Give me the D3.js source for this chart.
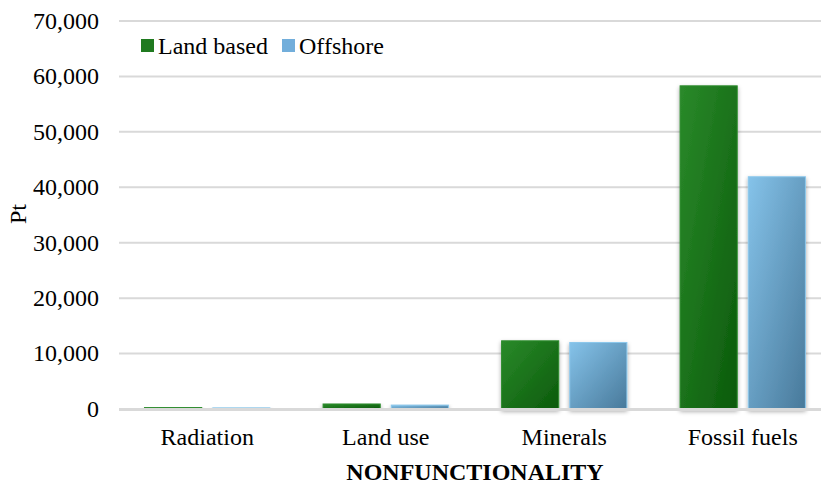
<!DOCTYPE html>
<html>
<head>
<meta charset="utf-8">
<script src="https://d3js.org/d3.v7.min.js"></script>
<style>
  body { margin: 0; background: #fff; }
</style>
</head>
<body>
<script>
// chart data
var categories = ["Radiation", "Land use", "Minerals", "Fossil fuels"];
var seriesNames = ["Land based", "Offshore"];
var landBased = [300, 900, 12300, 58300];
var offshore = [200, 700, 12000, 41900];
var yTicks = [0, 10000, 20000, 30000, 40000, 50000, 60000, 70000];

var width = 821, height = 484;
var margin = {top: 21, right: -11, bottom: 75, left: 118};
var font = "'Liberation Serif', 'Times New Roman', serif";

// put the serif face straight on each text element
function serif(sel, size) {
  sel.style("font-family", font, "important")
     .style("font-size", (size || 24) + "px", "important")
     .style("fill", "#000");
  return sel;
}

var svg = d3.select("body").append("svg")
  .attr("width", width)
  .attr("height", height);

var defs = svg.append("defs");

// gradients for the bars
var gGreen = defs.append("linearGradient").attr("id", "gGreen")
  .attr("x1", "0").attr("y1", "0").attr("x2", "1").attr("y2", "1");
gGreen.append("stop").attr("offset", "0%").attr("stop-color", "#2a8a2a");
gGreen.append("stop").attr("offset", "100%").attr("stop-color", "#0b5a0b");

var gBlue = defs.append("linearGradient").attr("id", "gBlue")
  .attr("x1", "0").attr("y1", "0").attr("x2", "1").attr("y2", "1");
gBlue.append("stop").attr("offset", "0%").attr("stop-color", "#85c3ea");
gBlue.append("stop").attr("offset", "100%").attr("stop-color", "#48799a");

var shadow = defs.append("filter").attr("id", "shadow")
  .attr("x", "-20%").attr("y", "-5%").attr("width", "140%").attr("height", "115%");
shadow.append("feDropShadow").attr("dx", 0).attr("dy", 2)
  .attr("stdDeviation", 2).attr("flood-color", "#000").attr("flood-opacity", 0.35);

var colors = ["url(#gGreen)", "url(#gBlue)"];
var strokes = ["#2c8c2c", "#8cc8ec"];
var legendFill = ["#1f7a1f", "#72aedb"];

var x0 = d3.scaleBand()
  .domain(categories)
  .range([margin.left, width - margin.right])
  .paddingInner(0)
  .paddingOuter(0);

var x1 = d3.scaleBand()
  .domain(seriesNames)
  .range([0, x0.bandwidth()])
  .paddingInner(0.162)
  .paddingOuter(0.39);

var y = d3.scaleLinear()
  .domain([0, 70000])
  .range([409, margin.top]);

// gridlines
svg.append("g")
  .selectAll("line")
  .data(yTicks.slice(1))
  .enter().append("line")
  .attr("x1", margin.left + 1)
  .attr("x2", width)
  .attr("y1", function(d) { return y(d); })
  .attr("y2", function(d) { return y(d); })
  .style("stroke", "#d9d9d9")
  .style("stroke-width", 2);

// y axis labels
svg.append("g")
  .selectAll("text")
  .data(yTicks)
  .enter().append("text")
  .attr("x", 99)
  .attr("y", function(d) { return y(d); })
  .attr("dy", "0.33em")
  .attr("text-anchor", "end")
  .call(serif)
  .text(function(d) { return d3.format(",")(d); });

// bars
var rows = categories.map(function(c, i) {
  return {cat: c, values: [landBased[i], offshore[i]]};
});

var groups = svg.append("g")
  .selectAll("g")
  .data(rows)
  .enter().append("g")
  .attr("transform", function(d) { return "translate(" + x0(d.cat) + ",0)"; });

groups.selectAll("rect")
  .data(function(d) {
    return d.values.map(function(v, j) { return {name: seriesNames[j], value: v, j: j}; });
  })
  .enter().append("rect")
  .attr("x", function(d) { return x1(d.name); })
  .attr("width", x1.bandwidth())
  .attr("y", function(d) { return y(d.value); })
  .attr("height", function(d) { return y(0) - y(d.value); })
  .style("fill", function(d) { return colors[d.j]; })
  .style("stroke", function(d) { return strokes[d.j]; })
  .style("stroke-width", 1)
  .attr("filter", "url(#shadow)");

// zero line
svg.append("line")
  .attr("x1", margin.left + 1)
  .attr("x2", width)
  .attr("y1", y(0) + 0.5)
  .attr("y2", y(0) + 0.5)
  .style("stroke", "#d9d9d9")
  .style("stroke-width", 3);

// category labels
svg.append("g")
  .selectAll("text")
  .data(categories)
  .enter().append("text")
  .attr("x", function(d) { return x0(d) + x0.bandwidth() / 2; })
  .attr("y", 445)
  .attr("text-anchor", "middle")
  .call(serif)
  .text(function(d) { return d; });

// axis titles
svg.append("text")
  .attr("x", 475)
  .attr("y", 480)
  .attr("text-anchor", "middle")
  .call(serif)
  .style("font-weight", "bold")
  .text("NONFUNCTIONALITY");

svg.append("text")
  .attr("transform", "translate(26,214) rotate(-90)")
  .attr("text-anchor", "middle")
  .call(serif)
  .text("Pt");

// legend
var legendX = [141, 282];
var legend = svg.append("g")
  .selectAll("g")
  .data(seriesNames)
  .enter().append("g")
  .attr("transform", function(d, i) { return "translate(" + legendX[i] + ",39)"; });

legend.append("rect")
  .attr("width", 13)
  .attr("height", 13)
  .style("fill", function(d, i) { return legendFill[i]; });

legend.append("text")
  .attr("x", 17)
  .attr("y", 7)
  .attr("dy", "0.33em")
  .call(serif)
  .text(function(d) { return d; });
</script>
</body>
</html>
